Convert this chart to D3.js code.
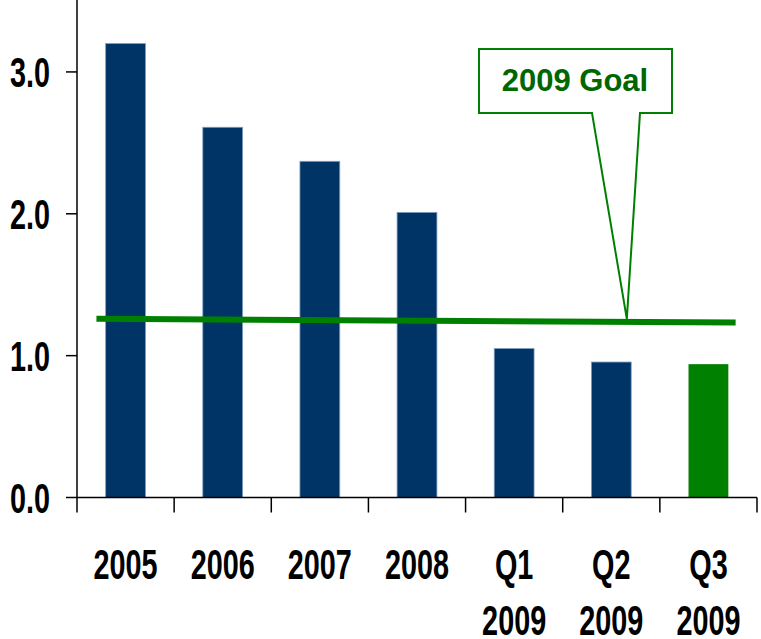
<!DOCTYPE html>
<html><head><meta charset="utf-8">
<script src="https://cdn.jsdelivr.net/npm/d3@7"></script>
<style>body{margin:0;background:#fff}svg{display:block}</style>
</head><body>
<svg id="c" width="761" height="639"></svg>
<script>
const categories = [["2005"],["2006"],["2007"],["2008"],["Q1","2009"],["Q2","2009"],["Q3","2009"]];
const values = [3.20, 2.61, 2.37, 2.01, 1.05, 0.955, 0.94];
const barColors = ["#003366","#003366","#003366","#003366","#003366","#003366","#008000"];
const yTicks = [0, 1, 2, 3];
const goalLine = [{idx: -0.30, v: 1.26}, {idx: 6.28, v: 1.233}];
const goalLabel = "2009 Goal";
const goalPointerIdx = 5.16;

const svg = d3.select("#c");
const x = d3.scaleBand().domain(d3.range(categories.length)).range([77, 757]).paddingInner(0.59).paddingOuter(0.295);
const y = d3.scaleLinear().domain([0, 3.5]).range([497.5, 1]);
const xi = d3.scaleLinear().domain([0, 1]).range([x(0) + x.bandwidth()/2, x(1) + x.bandwidth()/2]);

// bars
svg.selectAll("rect.bar").data(values).join("rect")
  .attr("x", (d,i) => x(i)).attr("y", d => y(d))
  .attr("width", x.bandwidth()).attr("height", d => y(0) - y(d))
  .attr("fill", (d,i) => barColors[i])
  .attr("stroke", (d,i) => i === 6 ? "none" : "#7f9fc0").attr("stroke-width", 0.8);

// y axis
svg.append("line").attr("x1", 77).attr("x2", 77).attr("y1", y(3.5)-1).attr("y2", y(0)).attr("stroke", "#000").attr("stroke-width", 1.5);
svg.selectAll("line.yt").data(yTicks).join("line")
  .attr("x1", 66).attr("x2", 77).attr("y1", d => y(d)).attr("y2", d => y(d))
  .attr("stroke", "#000").attr("stroke-width", 1.5);
svg.selectAll("g.yl").data(yTicks).join("g")
  .attr("transform", d => `translate(50,${y(d)+15.5}) scale(0.67,1)`)
  .append("text").attr("text-anchor", "end")
  .attr("font-family", "'Liberation Sans', Arial, sans-serif").attr("font-weight", "bold")
  .attr("font-size", 43).attr("fill", "#000")
  .text(d => d.toFixed(1));

// x axis
svg.append("line").attr("x1", 77).attr("x2", 757).attr("y1", y(0)).attr("y2", y(0)).attr("stroke", "#000").attr("stroke-width", 1.5);
svg.selectAll("line.xt").data(d3.range(categories.length + 1)).join("line")
  .attr("x1", i => 77 + i * x.step()).attr("x2", i => 77 + i * x.step())
  .attr("y1", y(0)).attr("y2", y(0) + 15)
  .attr("stroke", "#000").attr("stroke-width", 1.5);
const xl = svg.selectAll("g.xl").data(categories).join("g")
  .attr("transform", (d,i) => `translate(${x(i) + x.bandwidth()/2},579) scale(0.67,1)`);
xl.each(function(lines){
  const g = d3.select(this);
  lines.forEach((t, k) => {
    g.append("text").attr("text-anchor", "middle").attr("y", k * 56)
      .attr("font-family", "'Liberation Sans', Arial, sans-serif").attr("font-weight", "bold")
      .attr("font-size", 43).attr("fill", "#000").text(t);
  });
});

// goal line
svg.append("path")
  .attr("d", d3.line().x(d => xi(d.idx)).y(d => y(d.v))(goalLine))
  .attr("stroke", "#008000").attr("stroke-width", 6).attr("fill", "none");

// callout
const interp = (goalPointerIdx - goalLine[0].idx) / (goalLine[1].idx - goalLine[0].idx);
const tipV = goalLine[0].v + interp * (goalLine[1].v - goalLine[0].v);
const tipX = xi(goalPointerIdx), tipY = y(tipV) - 3;
const bx0 = 479, bx1 = 672, by0 = 49, by1 = 113;
svg.append("path")
  .attr("d", `M${bx0},${by0}H${bx1}V${by1}H640L${tipX},${tipY}L592,${by1}H${bx0}Z`)
  .attr("fill", "#fff").attr("stroke", "#008000").attr("stroke-width", 2);
svg.append("text").attr("x", 575).attr("y", 91).attr("text-anchor", "middle")
  .attr("font-family", "'Liberation Sans', Arial, sans-serif").attr("font-weight", "bold")
  .attr("font-size", 31).attr("fill", "#006600").text(goalLabel);
</script>
</body></html>
